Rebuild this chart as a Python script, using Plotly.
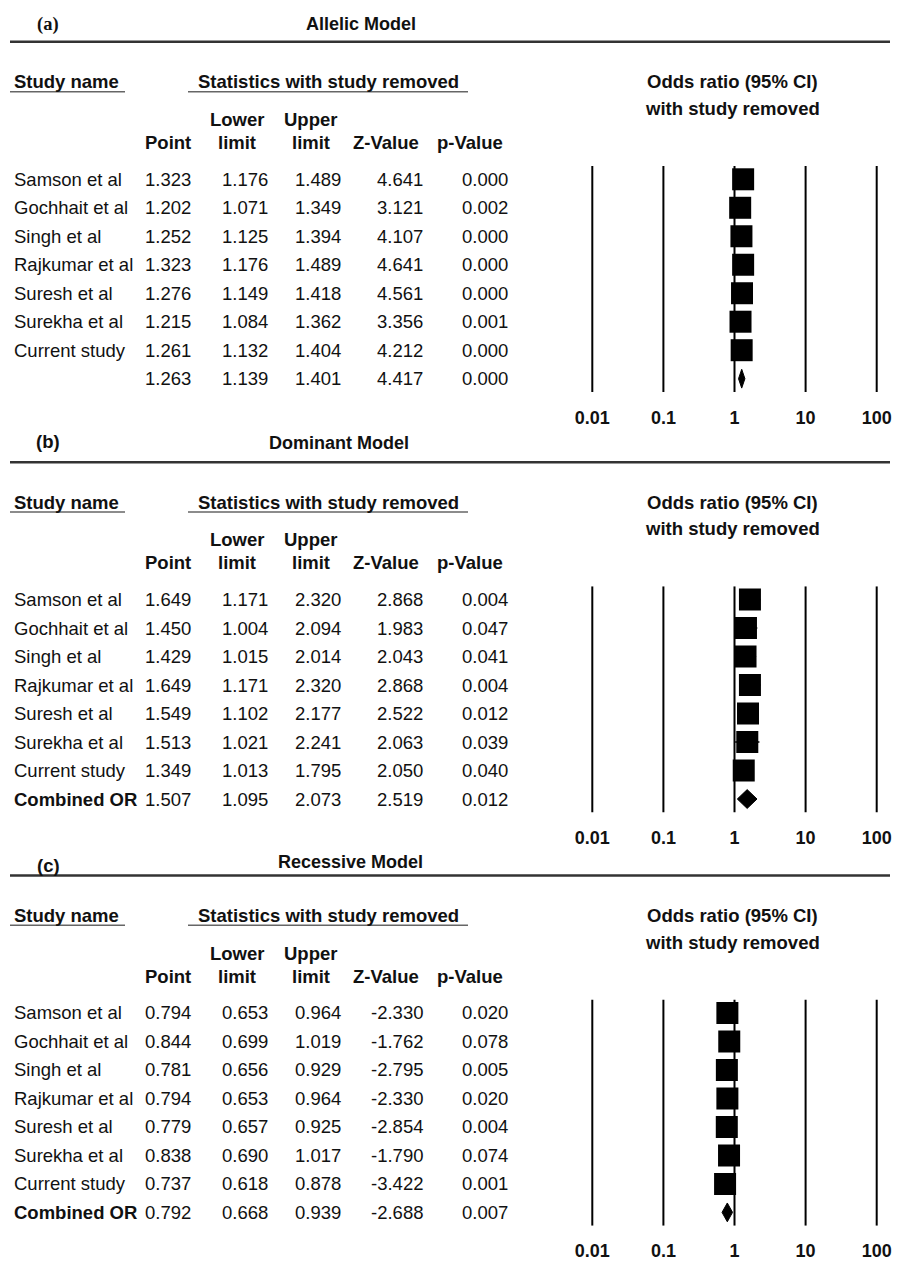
import plotly.graph_objects as go

W, H = 902, 1261

# ---------------- data ----------------
studies = ["Samson et al", "Gochhait et al", "Singh et al", "Rajkumar et al",
           "Suresh et al", "Surekha et al", "Current study"]

# last entry of every list is the combined (pooled) estimate
allelic_point = [1.323, 1.202, 1.252, 1.323, 1.276, 1.215, 1.261, 1.263]
allelic_lower = [1.176, 1.071, 1.125, 1.176, 1.149, 1.084, 1.132, 1.139]
allelic_upper = [1.489, 1.349, 1.394, 1.489, 1.418, 1.362, 1.404, 1.401]
allelic_z = [4.641, 3.121, 4.107, 4.641, 4.561, 3.356, 4.212, 4.417]
allelic_p = [0.000, 0.002, 0.000, 0.000, 0.000, 0.001, 0.000, 0.000]

dominant_point = [1.649, 1.450, 1.429, 1.649, 1.549, 1.513, 1.349, 1.507]
dominant_lower = [1.171, 1.004, 1.015, 1.171, 1.102, 1.021, 1.013, 1.095]
dominant_upper = [2.320, 2.094, 2.014, 2.320, 2.177, 2.241, 1.795, 2.073]
dominant_z = [2.868, 1.983, 2.043, 2.868, 2.522, 2.063, 2.050, 2.519]
dominant_p = [0.004, 0.047, 0.041, 0.004, 0.012, 0.039, 0.040, 0.012]

recessive_point = [0.794, 0.844, 0.781, 0.794, 0.779, 0.838, 0.737, 0.792]
recessive_lower = [0.653, 0.699, 0.656, 0.653, 0.657, 0.690, 0.618, 0.668]
recessive_upper = [0.964, 1.019, 0.929, 0.964, 0.925, 1.017, 0.878, 0.939]
recessive_z = [-2.330, -1.762, -2.795, -2.330, -2.854, -1.790, -3.422, -2.688]
recessive_p = [0.020, 0.078, 0.005, 0.020, 0.004, 0.074, 0.001, 0.007]

tick_values = [0.01, 0.1, 1, 10, 100]
tick_labels = ["0.01", "0.1", "1", "10", "100"]

panels = [
    dict(tag="(a)", title="Allelic Model", combined="",
         point=allelic_point, lower=allelic_lower, upper=allelic_upper,
         z=allelic_z, p=allelic_p,
         line_y=42, title_y=24, tag_y=25, title_x=361, row0=180),
    dict(tag="(b)", title="Dominant Model", combined="Combined OR",
         point=dominant_point, lower=dominant_lower, upper=dominant_upper,
         z=dominant_z, p=dominant_p,
         line_y=464, title_y=445, tag_y=443, title_x=339, row0=602),
    dict(tag="(c)", title="Recessive Model", combined="Combined OR",
         point=recessive_point, lower=recessive_lower, upper=recessive_upper,
         z=recessive_z, p=recessive_p,
         line_y=879, title_y=865, tag_y=869, title_x=350, row0=1017),
]

# ---------------- layout helpers ----------------
SANS = "Liberation Sans, Arial, sans-serif"
SERIF = "Liberation Serif, Times New Roman, serif"
STEP = 28.6          # px between rows
PAD = 0.47           # row units above first / below last row
FS = 18.5            # table font size

X_LEFT_PX, X_RIGHT_PX = 570, 900
LOG_LEFT = -2 - (592.3 - X_LEFT_PX) / 71.1
LOG_RIGHT = 2 + (X_RIGHT_PX - 876.7) / 71.1

annotations = []
shapes = []


def px(x):
    return x / W


def py(y):
    return 1 - y / H


def text(x, y, s, anchor="left", size=FS, bold=False, family=SANS):
    if bold:
        s = f"<b>{s}</b>"
    annotations.append(dict(
        x=px(x), y=py(y), xref="paper", yref="paper", text=s,
        showarrow=False, xanchor=anchor, yanchor="middle",
        font=dict(family=family, size=size, color="#111111")))


def hline(x0, x1, y, width, color):
    shapes.append(dict(type="line", xref="paper", yref="paper",
                       x0=px(x0), x1=px(x1), y0=py(y), y1=py(y),
                       line=dict(color=color, width=width)))


fig = go.Figure()

for k, pn in enumerate(panels):
    ax = "" if k == 0 else str(k + 1)
    L = pn["line_y"]
    r0 = pn["row0"]

    # panel heading and rule
    text(48, pn["tag_y"], pn["tag"], anchor="center", size=18.5, bold=True,
         family=SERIF if k == 0 else SANS)
    text(pn["title_x"], pn["title_y"], pn["title"], anchor="center", size=18, bold=True)
    hline(10, 890, L, 2.5, "#333333")

    # column headings
    text(12, L + 40, "Study name", bold=True)
    hline(10, 125, L + 50, 1.5, "#666666")
    text(328, L + 40, "Statistics with study removed", anchor="center", bold=True)
    hline(188, 468, L + 50, 1.5, "#666666")
    text(237, L + 78, "Lower", anchor="center", bold=True)
    text(310, L + 78, "Upper", anchor="center", bold=True)
    text(193, L + 101, "Point", anchor="right", bold=True)
    text(237, L + 101, "limit", anchor="center", bold=True)
    text(311, L + 101, "limit", anchor="center", bold=True)
    text(386, L + 101, "Z-Value", anchor="center", bold=True)
    text(470, L + 101, "p-Value", anchor="center", bold=True)
    text(732, L + 40, "Odds ratio (95% CI)", anchor="center", bold=True)
    text(732, L + 67, "with study removed", anchor="center", bold=True)

    # table body
    names = studies + [pn["combined"]]
    for i, name in enumerate(names):
        y = r0 + i * STEP
        if name:
            text(12, y, name, bold=(i == len(studies)))
        text(193, y, f"{pn['point'][i]:.3f}", anchor="right")
        text(270, y, f"{pn['lower'][i]:.3f}", anchor="right")
        text(343, y, f"{pn['upper'][i]:.3f}", anchor="right")
        text(425, y, f"{pn['z'][i]:.3f}", anchor="right")
        text(510, y, f"{pn['p'][i]:.3f}", anchor="right")

    # forest plot axes
    top_px = r0 - PAD * STEP
    bot_px = r0 + (len(studies) + PAD) * STEP
    y_lo, y_hi = -PAD, len(studies) + PAD
    fig.layout[f"xaxis{ax}"] = dict(
        type="log", range=[LOG_LEFT, LOG_RIGHT],
        domain=[px(X_LEFT_PX), px(X_RIGHT_PX)],
        anchor=f"y{ax}", tickvals=tick_values,
        ticktext=[f"<b>{t}</b>" for t in tick_labels],
        tickfont=dict(family=SANS, size=18, color="#111111"),
        ticks="outside", ticklen=9, tickcolor="rgba(0,0,0,0)",
        showgrid=False, zeroline=False, showline=False, fixedrange=True)
    fig.layout[f"yaxis{ax}"] = dict(
        range=[y_hi, y_lo], domain=[py(bot_px), py(top_px)],
        anchor=f"x{ax}", visible=False, fixedrange=True)

    # reference lines at each decade
    vx, vy = [], []
    for v in tick_values:
        vx += [v, v, None]
        vy += [y_lo, y_hi, None]
    fig.add_trace(go.Scatter(x=vx, y=vy, mode="lines",
                             line=dict(color="black", width=2),
                             xaxis=f"x{ax}", yaxis=f"y{ax}",
                             hoverinfo="skip", showlegend=False))

    # study estimates
    fig.add_trace(go.Scatter(
        x=pn["point"][:len(studies)], y=list(range(len(studies))),
        mode="markers",
        marker=dict(symbol="square", size=22, color="black"),
        error_x=dict(type="data", symmetric=False,
                     array=[u - p for u, p in zip(pn["upper"], pn["point"])][:len(studies)],
                     arrayminus=[p - l for l, p in zip(pn["lower"], pn["point"])][:len(studies)],
                     color="black", thickness=1.5, width=0),
        xaxis=f"x{ax}", yaxis=f"y{ax}", showlegend=False))

    # pooled estimate diamond
    c = len(studies)
    fig.add_trace(go.Scatter(
        x=[pn["lower"][c], pn["point"][c], pn["upper"][c], pn["point"][c], pn["lower"][c]],
        y=[c, c - 0.33, c, c + 0.33, c],
        mode="lines", fill="toself", fillcolor="black",
        line=dict(color="black", width=1),
        xaxis=f"x{ax}", yaxis=f"y{ax}", showlegend=False))

fig.update_layout(
    width=W, height=H, margin=dict(l=0, r=0, t=0, b=0),
    paper_bgcolor="white", plot_bgcolor="white",
    showlegend=False, annotations=annotations, shapes=shapes)

fig.write_html("out.html")
